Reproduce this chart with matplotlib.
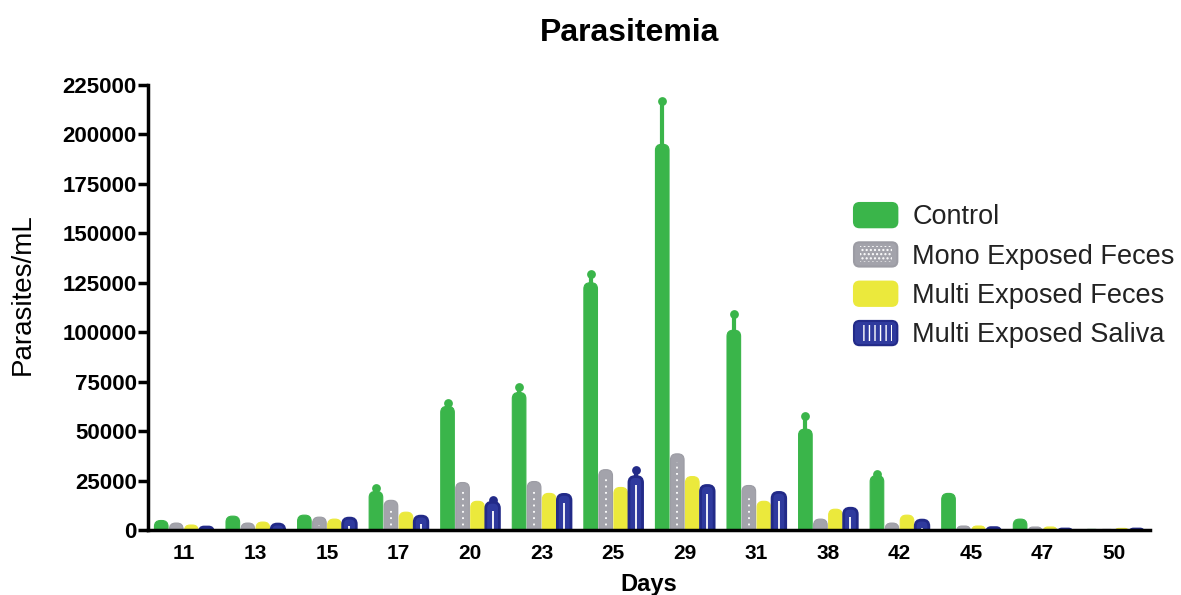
import numpy as np
import matplotlib
matplotlib.use("Agg")
import matplotlib.pyplot as plt
from matplotlib.patches import Patch, FancyBboxPatch
from matplotlib.legend_handler import HandlerBase
from matplotlib.transforms import ScaledTranslation

plt.rcParams['font.family'] = ['Liberation Sans', 'DejaVu Sans']

# datos
days = ["11", "13", "15", "17", "20", "23", "25", "29", "31", "38", "42", "45", "47", "50"]
groups = ["Control", "Mono Exposed Feces", "Multi Exposed Feces", "Multi Exposed Saliva"]

control = [4800, 7000, 7500, 19500, 62500, 69500, 125000, 195000, 101000, 51000, 27500, 18500, 5500, 300]
control_err = [0, 0, 0, 1500, 1500, 3000, 4500, 22000, 8000, 6500, 1000, 0, 0, 0]
mono_feces = [3500, 3500, 6500, 15000, 24000, 24500, 30500, 38500, 22500, 5500, 3500, 2000, 1500, 300]
multi_feces = [2500, 4000, 5500, 9000, 14500, 18500, 21500, 27000, 14500, 10500, 7500, 2000, 1500, 800]
multi_saliva = [1500, 3000, 6000, 7000, 14000, 18000, 27000, 22500, 19000, 11000, 5000, 1200, 500, 500]
multi_saliva_err = [0, 0, 0, 0, 1000, 0, 3500, 0, 0, 0, 0, 0, 0, 0]

series = [control, mono_feces, multi_feces, multi_saliva]
errors = [control_err, None, None, multi_saliva_err]
colors = ["#3ab54a", "#a3a3ab", "#ebe93c", "#2f3a9e"]
edges = ["#3ab54a", "#9c9ca4", "#ebe93c", "#222a88"]
hatches = [None, "....", None, "|||"]
centre_style = [None, (0, (1, 2.5)), None, "solid"]

fig = plt.figure(figsize=(11.81, 5.95), dpi=100)
ax = fig.add_axes([148 / 1181, 1 - 530 / 595, (1150 - 148) / 1181, (530 - 85) / 595])
ax.set_xlim(-0.5, len(days) - 0.5)
ax.set_ylim(0, 225000)

# pixeles por unidad, para redondear las barras
p0 = ax.transData.transform((0, 0))
p1 = ax.transData.transform((1, 1))
pxx, pxy = p1[0] - p0[0], p1[1] - p0[1]
aspect = pxx / pxy


def round_bars(bars, col, ec, lw, r_px=6):
    r = r_px / pxx
    ext = r * aspect
    for b in bars:
        x0, w, h = b.get_x(), b.get_width(), b.get_height()
        rs = min(r, (h + ext) / aspect / 2, w / 2)
        fb = FancyBboxPatch((x0, -ext), w, h + ext,
                            boxstyle=f"round,pad=0,rounding_size={rs}",
                            mutation_aspect=aspect, facecolor=col, edgecolor=ec,
                            linewidth=lw, zorder=3)
        ax.add_patch(fb)
        b.set_visible(False)


class HandlerRoundBox(HandlerBase):
    def __init__(self, col, ec, hatch):
        super().__init__()
        self.col, self.ec, self.hatch = col, ec, hatch

    def create_artists(self, legend, orig_handle, xdescent, ydescent, width, height, fontsize, trans):
        arts = [FancyBboxPatch((-xdescent, -ydescent), width, height,
                               boxstyle="round,pad=0,rounding_size=4",
                               facecolor=self.col, edgecolor=self.ec, linewidth=1.5,
                               transform=trans)]
        if self.hatch:
            arts.append(FancyBboxPatch((-xdescent + 4, -ydescent + 3), width - 8, height - 6,
                                       boxstyle="square,pad=0", fill=False, hatch=self.hatch,
                                       edgecolor="white", linewidth=0, transform=trans))
        return arts


x = np.arange(len(days))
pitch = 0.21
bw = 0.19
down = ax.transData + ScaledTranslation(0, -6 / 72, fig.dpi_scale_trans)
handles = []
hmap = {}
for i, (vals, err, col, ec, hat, cs) in enumerate(zip(series, errors, colors, edges, hatches, centre_style)):
    pos = x + (i - 1.5) * pitch
    vals = np.array(vals, dtype=float)
    if err is not None:
        err = np.array(err, dtype=float)
        m = err > 0
        ax.vlines(pos[m], vals[m], vals[m] + err[m], color=ec, lw=3, capstyle="round", zorder=2)
        ax.scatter(pos[m], vals[m] + err[m], s=40, color=ec, zorder=2, linewidths=0)
    bars = ax.bar(pos, vals, bw, color=col)
    round_bars(bars, col, ec, 2.0 if i == 3 else 0.8)
    if cs is not None:
        ax.vlines(pos, 0, vals, colors="white", linestyles=cs, lw=1.3,
                  transform=down, zorder=4)
    h = Patch(facecolor=col)
    handles.append(h)
    hmap[h] = HandlerRoundBox(col, ec, hat)

ax.set_yticks(np.arange(0, 225001, 25000))
ax.set_xticks(x)
ax.set_xticklabels(days)

for s in ["top", "right"]:
    ax.spines[s].set_visible(False)
for s in ["left", "bottom"]:
    ax.spines[s].set_linewidth(2.5)
    ax.spines[s].set_zorder(5)
ax.tick_params(axis="y", length=7, width=2.5, pad=1, labelsize=16)
ax.tick_params(axis="x", length=0, pad=10, labelsize=15)
for lab in ax.get_xticklabels() + ax.get_yticklabels():
    lab.set_fontweight("bold")

fig.text(630 / 1181, 1 - 33 / 595, "Parasitemia", fontsize=23, fontweight="bold",
         ha="center", va="center")
ax.set_xlabel("Days", fontsize=17, fontweight="bold", labelpad=7)
ax.set_ylabel("Parasites/mL", fontsize=20)
ax.yaxis.set_label_coords(-0.112, 0.53)

leg = fig.legend(handles, groups, loc="upper left", bbox_to_anchor=(854 / 1181, 1 - 203 / 595),
                 frameon=False, fontsize=19.5, handlelength=1.6, handleheight=1.0,
                 handletextpad=0.55, labelspacing=0.44, borderpad=0, borderaxespad=0,
                 handler_map=hmap)
for t in leg.get_texts():
    t.set_color("#222222")

fig.savefig("out.png", dpi=100)
